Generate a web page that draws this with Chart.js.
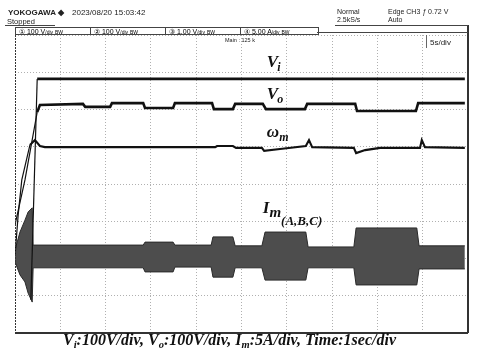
<!DOCTYPE html>
<html>
<head>
<meta charset="utf-8">
<script src="https://cdn.jsdelivr.net/npm/chart.js@4"></script>
<style>
  html, body { margin: 0; padding: 0; background: #fff; }
  #wrap { position: relative; width: 480px; height: 363px; overflow: hidden; background: #fff; }
  #scope { position: absolute; left: 0; top: 0; }
  .hd { position: absolute; font-family: "Liberation Sans", Arial, sans-serif; color: #222; white-space: nowrap; }
  .row { position: absolute; left: 15px; top: 27px; width: 302px; height: 6px; border: 1px solid #444; display: flex; }
  .cell { width: 75px; height: 6px; border-right: 1px solid #444; font: 7px/7px "Liberation Sans", sans-serif; padding-left: 3px; box-sizing: border-box; }
  .cell:last-child { border-right: none; }
  .cell small { font-size: 5px; }
  #caption { position: absolute; left: 63px; top: 331px; font: bold italic 16px "Liberation Serif", "Times New Roman", serif; color: #111; white-space: nowrap; }
  #caption sub { font-size: 10.5px; vertical-align: -3px; }
</style>
</head>
<body>
<div id="wrap">
  <canvas id="scope" width="480" height="363"></canvas>

  <div class="hd" style="left:8px;top:8px;font-weight:bold;font-size:8px;">YOKOGAWA ◆</div>
  <div class="hd" style="left:72px;top:8px;font-size:8px;">2023/08/20 15:03:42</div>
  <div class="hd" style="left:7px;top:17px;font-size:7.5px;">Stopped</div>
  <div style="position:absolute;left:5px;top:25px;width:50px;height:1px;background:#444"></div>

  <div class="row">
    <div class="cell">① 100 V<small>/div</small> <small>BW</small></div>
    <div class="cell">② 100 V<small>/div</small> <small>BW</small></div>
    <div class="cell">③ 1.00 V<small>/div</small> <small>BW</small></div>
    <div class="cell">④ 5.00 A<small>/div</small> <small>BW</small></div>
  </div>
  <div style="position:absolute;left:317px;top:32px;width:151px;height:1px;background:#444"></div>

  <div class="hd" style="left:337px;top:8px;font-size:7px;line-height:8px;">Normal<br>2.5kS/s</div>
  <div class="hd" style="left:388px;top:8px;font-size:7px;line-height:8px;">Edge CH3 <i>ƒ</i> 0.72 V<br>Auto</div>
  <div style="position:absolute;left:335px;top:25px;width:133px;height:1px;background:#444"></div>

  <div class="hd" style="left:225px;top:37px;font-size:5.5px;">Main : 125 k</div>
  <div style="position:absolute;left:426px;top:35px;width:1px;height:13px;background:#666"></div>
  <div class="hd" style="left:430px;top:38px;font-size:8px;">5s/div</div>

  <div id="caption">V<sub>i</sub>:100V/div, V<sub>o</sub>:100V/div, I<sub>m</sub>:5A/div, Time:1sec/div</div>
</div>

<script>
// scope screen: 10 horizontal divisions, 8 vertical divisions (values read in divisions)

// === Vi (input voltage) ===
const viX = [0.35, 0.49, 9.93];
const viY = [-3.11, 2.82, 2.82];

// === Vo (output voltage) ===
const voX = [0, 0.22, 0.49, 0.55, 1.50, 1.55, 2.10, 2.14, 2.83, 2.87, 3.49, 3.53, 4.35, 4.39, 4.81, 4.86,
             5.47, 5.54, 6.40, 6.45, 7.51, 7.55, 8.85, 8.90, 9.93];
const voY = [-1.10, 0.11, 1.93, 2.12, 2.15, 2.07, 2.07, 2.17, 2.17, 2.04, 2.04, 2.17, 2.17, 2.01, 2.01, 2.15,
             2.15, 2.01, 2.01, 2.15, 2.15, 1.96, 1.96, 2.17, 2.17];

// === wm (motor speed) ===
const wmX = [0, 0.07, 0.15, 0.33, 0.44, 0.55, 0.66, 4.42, 4.46, 4.81, 4.88, 5.45, 5.50, 5.85, 6.42, 6.49,
             6.56, 7.48, 7.53, 7.73, 8.06, 8.94, 8.98, 9.05, 9.93];
const wmY = [-1.93, -0.83, 0.11, 1.05, 1.18, 1.02, 0.99, 0.99, 1.02, 1.02, 0.97, 0.97, 0.89, 0.94, 1.02, 1.18,
             0.99, 0.97, 0.83, 0.91, 0.97, 0.97, 1.18, 0.99, 0.97];

// === Im (phase currents, envelope of the band) ===
const imX      = [0, 0.11, 0.22, 0.29, 0.38, 0.40, 2.83, 2.87, 3.49, 3.53, 4.33, 4.37, 4.81, 4.86, 5.45, 5.52,
                  6.42, 6.47, 7.48, 7.53, 8.87, 8.92, 9.93];
const imTop    = [-1.77, -1.29, -0.97, -0.75, -0.64, -1.64, -1.64, -1.56, -1.56, -1.64, -1.64, -1.42, -1.42, -1.66, -1.66, -1.29,
                  -1.29, -1.69, -1.69, -1.18, -1.18, -1.66, -1.66];
const imBottom = [-2.09, -2.44, -2.63, -2.93, -3.17, -2.25, -2.25, -2.36, -2.36, -2.23, -2.23, -2.50, -2.50, -2.25, -2.25, -2.58,
                  -2.58, -2.25, -2.25, -2.71, -2.71, -2.28, -2.28];

const pts = (xs, ys) => xs.map((x, i) => ({ x: x, y: ys[i] }));

// === Labels and frame drawn on the canvas ===
const scopePlugin = {
  id: 'scopeDeco',
  afterDraw(chart) {
    const { ctx, chartArea: a, scales: { x, y } } = chart;
    ctx.save();
    // frame
    ctx.strokeStyle = '#333';
    ctx.lineWidth = 2;
    ctx.beginPath();
    ctx.moveTo(a.left, a.bottom); ctx.lineTo(a.right, a.bottom);
    ctx.moveTo(a.right, 25); ctx.lineTo(a.right, a.bottom);
    ctx.stroke();
    ctx.lineWidth = 1;
    ctx.setLineDash([2, 1]);
    ctx.beginPath();
    ctx.moveTo(a.left + 0.5, a.top); ctx.lineTo(a.left + 0.5, a.bottom);
    ctx.stroke();
    ctx.setLineDash([]);

    // trace labels
    ctx.fillStyle = '#111';
    ctx.textBaseline = 'alphabetic';
    const serif = '"Liberation Serif", "Times New Roman", serif';
    const lab = (parts, xd, yd) => {
      let px = x.getPixelForValue(xd);
      const py = y.getPixelForValue(yd);
      parts.forEach(p => {
        ctx.font = 'bold italic ' + p[1] + 'px ' + serif;
        ctx.fillText(p[0], px, py + p[2]);
        px += ctx.measureText(p[0]).width + (p[3] || 0);
      });
    };
    lab([['V', 17, 0, -1], ['i', 12, 4]], 5.56, 3.14);
    lab([['V', 17, 0, -1], ['o', 12, 4]], 5.56, 2.28);
    lab([['ω', 17, 0], ['m', 12, 4]], 5.56, 1.26);
    lab([['I', 17, 0], ['m', 15, 4], ['(A,B,C)', 13, 12]], 5.47, -0.78);
    ctx.restore();
  }
};

// thin rising edge at power-up, thick noisy trace afterwards
const lineStyle = (w, rise) => ({
  borderColor: '#111', borderWidth: w, pointRadius: 0, tension: 0, fill: false,
  segment: { borderWidth: c => (c.p0DataIndex < rise ? 1.2 : w) }
});

new Chart(document.getElementById('scope'), {
  type: 'line',
  data: {
    datasets: [
      Object.assign({ label: 'Vi', data: pts(viX, viY) }, lineStyle(2.8, 1)),
      Object.assign({ label: 'Vo', data: pts(voX, voY) }, lineStyle(2.6, 2)),
      Object.assign({ label: 'wm', data: pts(wmX, wmY) }, lineStyle(2.1, 3)),
      Object.assign({ label: 'ImTop', data: pts(imX, imTop) }, lineStyle(1, 0), { borderColor: '#2a2a2a' }),
      Object.assign({ label: 'ImBottom', data: pts(imX, imBottom) }, lineStyle(1, 0),
        { borderColor: '#2a2a2a', fill: '-1', backgroundColor: '#4d4d4d' })
    ]
  },
  options: {
    responsive: false,
    animation: false,
    devicePixelRatio: 1,
    layout: { padding: { left: 15, right: 12, top: 35, bottom: 30 } },
    plugins: { legend: { display: false }, tooltip: { enabled: false } },
    scales: {
      x: {
        type: 'linear', min: 0, max: 10,
        ticks: { display: false, stepSize: 1 },
        grid: { color: '#b0b0b0', drawTicks: false, lineWidth: 1 },
        border: { display: false, dash: [1, 2] }
      },
      y: {
        type: 'linear', min: -4, max: 4,
        ticks: { display: false, stepSize: 1 },
        grid: { color: '#b0b0b0', drawTicks: false, lineWidth: 1 },
        border: { display: false, dash: [1, 2] }
      }
    }
  },
  plugins: [scopePlugin]
});
</script>
</body>
</html>
